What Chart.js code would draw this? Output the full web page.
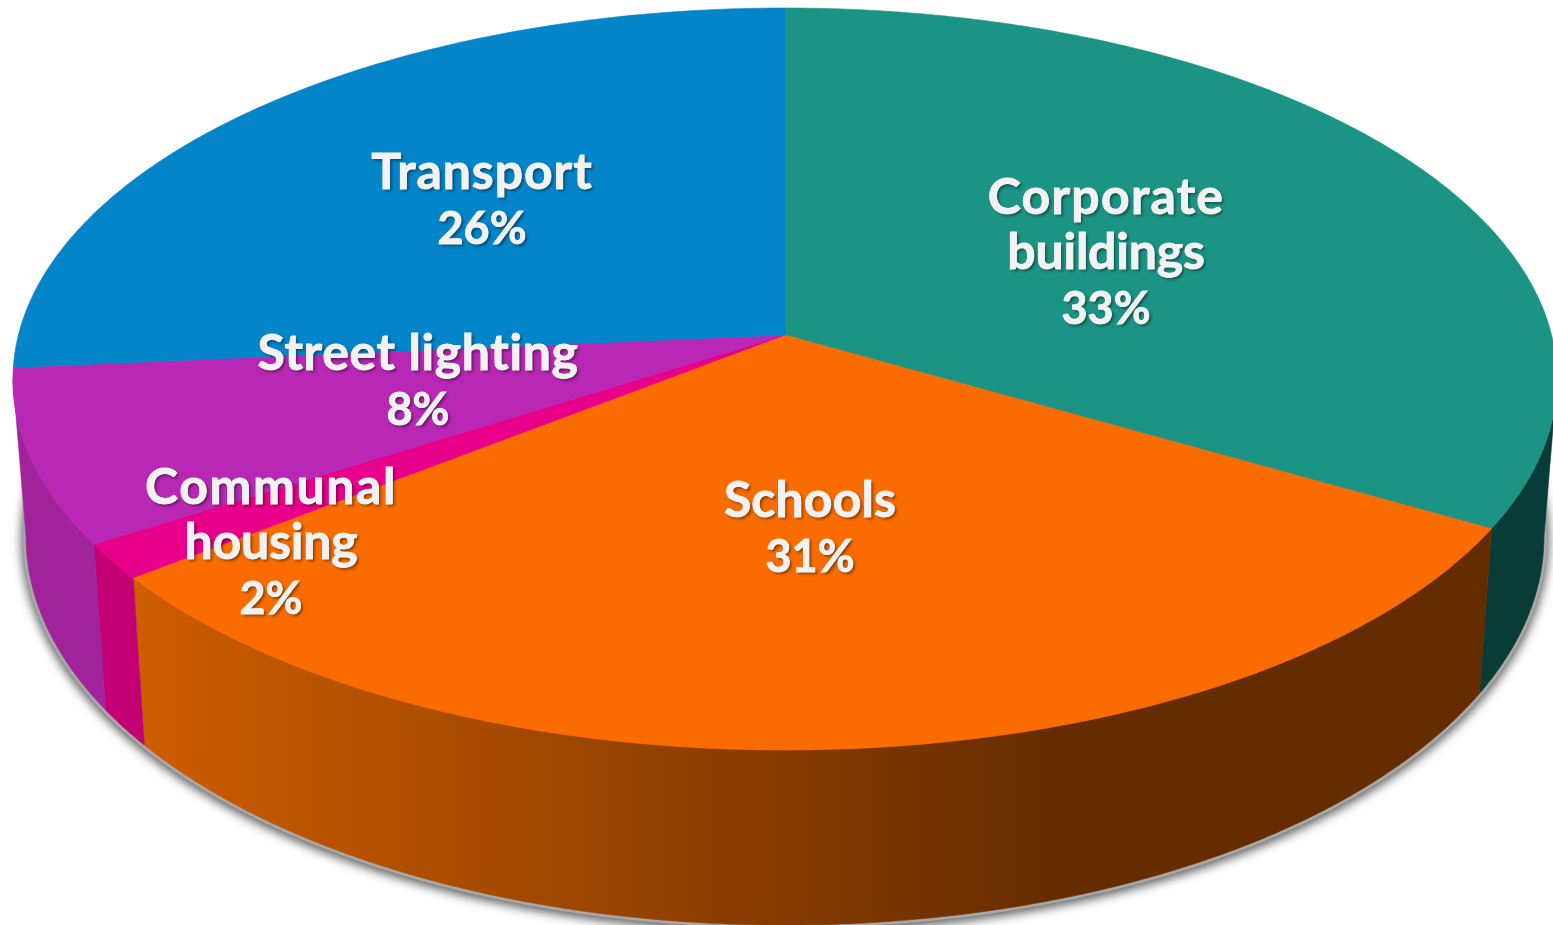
<!DOCTYPE html>
<html>
<head>
<meta charset="utf-8">
<title>Energy use by sector</title>
<style>
  html, body { margin: 0; padding: 0; background: #fff; overflow: hidden; }
  canvas { display: block; }
</style>
<script src="https://cdn.jsdelivr.net/npm/chart.js@4"></script>
</head>
<body>
<canvas id="pie" width="1553" height="925"></canvas>
<script>
const categories = ['Corporate buildings', 'Schools', 'Communal housing', 'Street lighting', 'Transport'];
// the printed labels are these rounded
const values = [33.3, 31.15, 1.55, 7.6, 26.4];
const topColors = ['#1b9485', '#fa6c00', '#e8008a', '#b927b5', '#0484c9'];
const sideColors = ['#093b37', null, '#c40075', '#a0239c', '#0367a0'];

// label text broken the way the picture breaks it, with centre x and first baseline
const labelLines = [['Corporate', 'buildings'], ['Schools'], ['Communal', 'housing'], ['Street lighting'], ['Transport']];
const labelSpacing = [[1.2, -0.2], [0.1], [1.6, -0.2], [0.6], [0.9]];
const labelX = [1106, 810, 271, 418, 482];
const labelY = [214, 517, 504, 370, 189];
const labelStep = 55;

// perspective disc: the apex of the pie sits above the middle of the ellipse
const apex = { x: 785, y: 335 };
const discA = 766.6, discB = 365.8, tilt = 0.1186;
// the rim is widest here, walls outside this range are hidden behind the top
const wallFrom = Math.asin(tilt), wallTo = Math.PI - wallFrom;

function topRim(a) {
  const u = Math.cos(a), v = Math.sin(a), d = 1 - tilt * v;
  return { x: apex.x + discA * u / d, y: apex.y + discB * v / d };
}

// the lower rim is the top rim pushed down and stretched a little
function lowRim(a) {
  const p = topRim(a);
  return { x: apex.x + (p.x - apex.x) * 0.983, y: 491 + (p.y - apex.y) * 1.046 };
}

function rimPath(ctx, rim, from, to, first) {
  const steps = Math.max(2, Math.ceil(Math.abs(to - from) * 90));
  for (let i = 0; i <= steps; i++) {
    const p = rim(from + (to - from) * i / steps);
    if (i === 0 && first) ctx.moveTo(p.x, p.y);
    else ctx.lineTo(p.x, p.y);
  }
}

// filled text with one soft shadow, thickened a little to match the heavier face
function drawLabel(ctx, text, x, y) {
  ctx.shadowColor = 'rgba(0,0,0,0.45)';
  ctx.fillText(text, x, y);
  ctx.shadowColor = 'transparent';
  ctx.fillText(text, x, y);
  ctx.strokeText(text, x, y);
}

const pie3d = {
  id: 'pie3d',
  beforeDatasetDraw(chart) {
    const ctx = chart.ctx;
    const arcs = chart.getDatasetMeta(0).data;
    const orange = ctx.createLinearGradient(132, 0, 1060, 0);
    orange.addColorStop(0, '#cf5d00');
    orange.addColorStop(1, '#652c00');

    // soft shadow under the whole disc
    ctx.save();
    ctx.shadowColor = 'rgba(0,0,0,0.7)';
    ctx.shadowBlur = 12;
    ctx.shadowOffsetY = 2;
    ctx.fillStyle = '#a8a8a8';
    ctx.strokeStyle = '#a8a8a8';
    ctx.lineWidth = 6;
    ctx.beginPath();
    rimPath(ctx, lowRim, 0, Math.PI * 2, true);
    ctx.closePath();
    ctx.fill();
    ctx.stroke();
    ctx.restore();

    // walls first, then the top faces over them
    arcs.forEach((arc, i) => {
      const from = Math.max(arc.startAngle, wallFrom);
      const to = Math.min(arc.endAngle, wallTo);
      if (to <= from) return;
      ctx.fillStyle = sideColors[i] || orange;
      ctx.strokeStyle = ctx.fillStyle;
      ctx.lineWidth = 0.6;
      ctx.beginPath();
      rimPath(ctx, topRim, from, to, true);
      rimPath(ctx, lowRim, to, from, false);
      ctx.closePath();
      ctx.fill();
      ctx.stroke();
    });
    arcs.forEach((arc, i) => {
      ctx.fillStyle = topColors[i];
      ctx.strokeStyle = topColors[i];
      ctx.lineWidth = 0.6;
      ctx.beginPath();
      ctx.moveTo(apex.x, apex.y);
      rimPath(ctx, topRim, arc.startAngle, arc.endAngle, false);
      ctx.closePath();
      ctx.fill();
      ctx.stroke();
    });
    return false;
  },
  afterDatasetsDraw(chart) {
    const ctx = chart.ctx;
    ctx.save();
    ctx.textAlign = 'center';
    ctx.textBaseline = 'alphabetic';
    ctx.fillStyle = '#f2f2f2';
    ctx.strokeStyle = '#f2f2f2';
    ctx.lineWidth = 0.8;
    ctx.shadowBlur = 3;
    ctx.shadowOffsetX = 2;
    ctx.shadowOffsetY = 2;
    categories.forEach((c, i) => {
      labelLines[i].forEach((line, k) => {
        ctx.font = 'bold 50px Lato';
        ctx.letterSpacing = labelSpacing[i][k] + 'px';
        drawLabel(ctx, line, labelX[i], labelY[i] + k * labelStep);
      });
      ctx.font = 'bold 45px Lato';
      ctx.letterSpacing = '0px';
      drawLabel(ctx, Math.round(values[i]) + '%', labelX[i], labelY[i] + labelLines[i].length * labelStep);
    });
    ctx.restore();
  }
};

new Chart(document.getElementById('pie'), {
  type: 'pie',
  data: {
    labels: categories,
    datasets: [{ data: values, backgroundColor: topColors, borderWidth: 0 }]
  },
  options: {
    responsive: false,
    animation: false,
    plugins: { legend: { display: false }, tooltip: { enabled: false } }
  },
  plugins: [pie3d]
});
</script>
</body>
</html>
